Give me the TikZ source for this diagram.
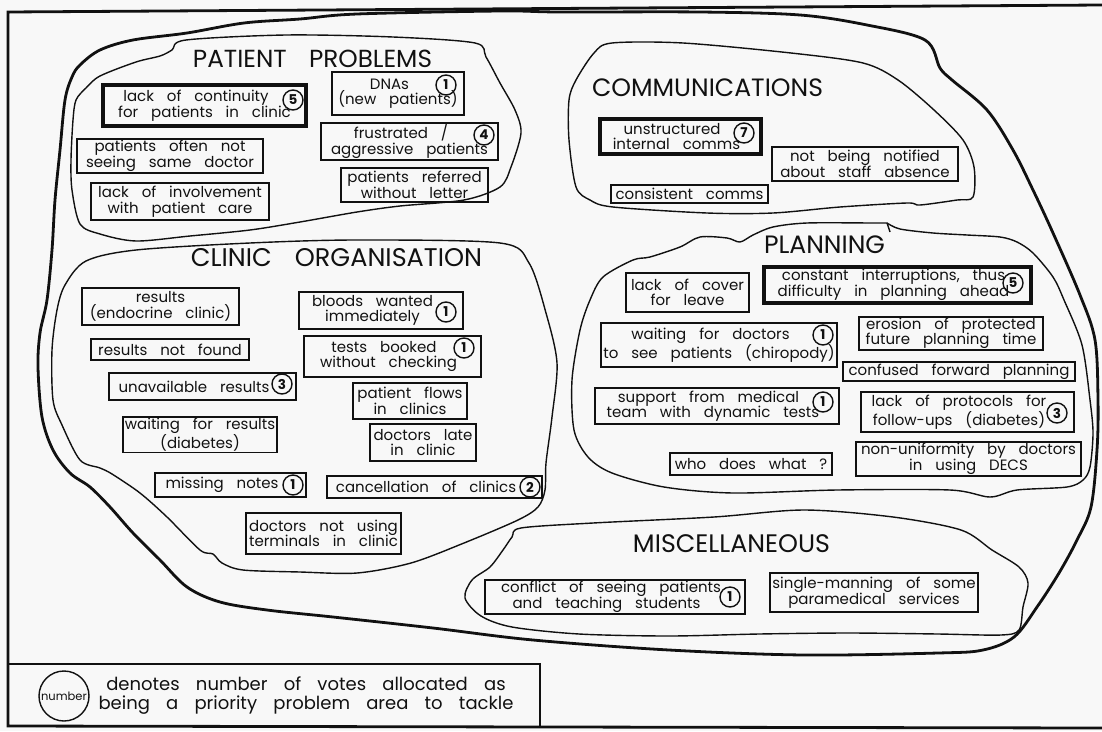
\documentclass[tikz,border=0pt]{standalone}
\usepackage{fontspec}
\setmainfont{Poppins}
\usepackage{graphicx}

\definecolor{ink}{HTML}{111111}
\definecolor{paper}{HTML}{F8F8F8}

% text settings
\newcommand\boxfont{\fontsize{15}{15.5}\selectfont\spaceskip=0.86em plus 0.3em minus 0.3em}
\newcommand\votefont{\fontsize{13.5}{13.5}\selectfont\bfseries}
\newcommand\legendfont{\fontsize{18}{19}\selectfont\spaceskip=0.9em plus 0.3em}
\newcommand\pad{\hspace*{17pt}}
\newcommand\halfpad{\hspace*{8pt}}
\newcommand\heading[2]{\resizebox{#1}{!}{#2}}

\tikzset{
  frame/.style={draw=ink, line width=2.8pt},
  outerblob/.style={draw=ink, line width=2.8pt, line join=round},
  blob/.style={draw=ink, line width=1.4pt, line join=round},
  box/.style={draw=ink, line width=1.3pt, inner sep=1pt, align=center,
              font=\boxfont, text=ink},
  hibox/.style={box, line width=4pt},
  vote/.style={circle, draw=ink, line width=1.4pt, inner sep=0pt,
               minimum size=20pt, font=\votefont, text=ink},
  title/.style={inner sep=0pt, text=ink},
}

\begin{document}
\begin{tikzpicture}[x=1pt, y=-1pt]
\useasboundingbox (0,0) rectangle (1102,731);
\fill[paper] (0,0) rectangle (1102,731);

% page frame (right edge lies outside the sheet)
\draw[frame] (1102,5) -- (8,12) -- (8,726) -- (1102,728);

% enclosing outline round all the groups
\draw[outerblob] plot[smooth cycle, tension=0.55] coordinates {
  (300,19) (357,14) (500,11) (560,12) (700,12) (800,15) (867,25) (925,40)
  (940,68) (952,80) (987,110) (1013,150) (1033,190) (1053,233) (1080,295)
  (1095,340) (1098,400) (1097,450) (1091,507) (1077,540) (1059,573)
  (1037,607) (1014,637) (983,650) (938,653) (804,655) (669,650) (533,640)
  (433,628) (333,617) (267,610) (220,602) (187,587) (160,560) (133,533)
  (110,507) (90,487) (70,473) (53,450) (42,417) (38,367) (40,333) (47,300)
  (52,250) (55,200) (60,150) (65,100) (72,77) (80,65) (100,50) (133,40)
  (187,33) (244,23)};

% group outlines
\draw[blob] plot[smooth cycle, tension=0.5] coordinates {
  (186,40) (286,35) (393,37) (475,43) (486,57) (500,83) (515,110) (521,133)
  (511,167) (500,187) (464,200) (400,206) (357,212) (300,222) (250,230)
  (190,236) (136,241) (100,234) (80,224) (72,190) (71,160) (73,120)
  (76,100) (86,88) (100,76) (136,62) (160,56) (172,50)};

\draw[blob] plot[smooth cycle, tension=0.5] coordinates {
  (594,53) (612,43) (683,43) (791,53) (863,63) (898,80) (934,110)
  (963,140) (974,167) (973,197) (957,200) (920,205) (907,203) (840,207)
  (773,213) (707,213) (613,207) (590,200) (576,187) (569,140) (569,100)
  (576,80)};

\draw[blob] plot[smooth cycle, tension=0.5] coordinates {
  (136,250) (250,243) (357,240) (500,243) (529,263) (546,313) (557,363)
  (552,417) (546,463) (545,490) (538,507) (518,520) (464,543) (411,563)
  (357,573) (300,572) (243,570) (222,563) (213,554) (200,550) (167,517)
  (140,493) (112,474) (100,468) (80,460) (62,425) (53,400) (52,350)
  (57,310) (65,285) (86,261)};

\draw[blob] plot[smooth, tension=0.5] coordinates {
  (887,223) (873,223) (807,223) (773,227) (753,235) (740,242) (727,238)
  (700,237) (680,247) (650,257) (633,260) (603,277) (590,300) (580,330)
  (572,380) (574,430) (588,457) (612,473) (664,487) (733,493) (837,490)
  (950,490) (990,497) (1017,490) (1067,487) (1083,480) (1090,467)
  (1093,433) (1090,400) (1082,345) (1064,300) (1053,277) (1033,253)
  (1017,242) (1000,237) (967,235) (933,233) (900,229) (887,223)};
\draw[blob] (887,223) -- (890,232);

\draw[blob] plot[smooth cycle, tension=0.5] coordinates {
  (521,528) (593,523) (714,517) (804,510) (893,517) (961,530) (992,550)
  (1019,567) (1028,583) (1023,607) (1019,630) (1001,635) (938,634)
  (848,633) (759,634) (669,636) (579,634) (512,627) (481,616) (465,598)
  (472,580) (490,567) (503,550) (512,537)};

% headings
\node[title] (hPat)  at (312.5,58.5) {\heading{239pt}{PATIENT\hspace{0.9em}PROBLEMS}};
\node[title] (hCom)  at (707.5,87.5) {\heading{231pt}{COMMUNICATIONS}};
\node[title] (hCli)  at (336.5,258)  {\heading{291pt}{CLINIC\hspace{0.9em}ORGANISATION}};
\node[title] (hPlan) at (824.5,245)  {\heading{121pt}{PLANNING}};
\node[title] (hMisc) at (731.5,544)  {\heading{197pt}{MISCELLANEOUS}};

% patient problems
\node[hibox, minimum width=203pt, minimum height=41pt] (t1) at (204.5,105.5)
  {lack of continuity\pad\\for patients in clinic};
\node[box, minimum width=132pt, minimum height=43pt] (t2) at (398,93.5)
  {DNAs\pad\\(new patients)};
\node[box, minimum width=177pt, minimum height=37pt] (t3) at (409.5,141.5)
  {frustrated /\pad\\aggressive patients};
\node[box, minimum width=186pt, minimum height=34pt] (t4) at (170,156)
  {patients often not\\seeing same doctor};
\node[box, minimum width=147pt, minimum height=34pt] (t5) at (414.5,185)
  {patients referred\\without letter};
\node[box, minimum width=178pt, minimum height=37pt] (t6) at (180,201.5)
  {lack of involvement\\with patient care};

% communications
\node[hibox, minimum width=161pt, minimum height=35pt] (c1) at (680.5,136.5)
  {unstructured\pad\\internal comms\halfpad};
\node[box, minimum width=186pt, minimum height=34pt] (c2) at (865,164)
  {not being notified\\about staff absence};
\node[box, minimum width=157pt, minimum height=18pt] (c3) at (689.5,194)
  {consistent comms};

% clinic organisation
\node[box, minimum width=157pt, minimum height=37pt] (k1) at (160.5,306.5)
  {results\\(endocrine clinic)};
\node[box, minimum width=164pt, minimum height=37pt] (k2) at (381,310.5)
  {bloods wanted\pad\\immediately\pad};
\node[box, minimum width=158pt, minimum height=21pt] (k3) at (170,349.5)
  {results not found};
\node[box, minimum width=177pt, minimum height=41pt] (k4) at (392.5,356.5)
  {tests booked\pad\\without checking\halfpad};
\node[box, minimum width=187pt, minimum height=27pt] (k5) at (202.5,386.5)
  {unavailable results\pad};
\node[box, minimum width=114pt, minimum height=36pt] (k6) at (410,401)
  {patient flows\\in clinics};
\node[box, minimum width=154pt, minimum height=35pt] (k7) at (200,434.5)
  {waiting for results\\(diabetes)};
\node[box, minimum width=106pt, minimum height=37pt] (k8) at (423,442.5)
  {doctors late\\in clinic};
\node[box, minimum width=151pt, minimum height=24pt] (k9) at (230.5,485)
  {missing notes\pad};
\node[box, minimum width=215pt, minimum height=22pt] (k10) at (434.5,487)
  {cancellation of clinics\pad};
\node[box, minimum width=155pt, minimum height=41pt] (k11) at (323.5,533.5)
  {doctors not using\\terminals in clinic};

% planning
\node[box, minimum width=123pt, minimum height=39pt] (p1) at (687.5,292.5)
  {lack of cover\\for leave};
\node[hibox, minimum width=267pt, minimum height=36pt] (p2) at (897.5,285)
  {constant interruptions, thus\halfpad\\difficulty in planning ahead\halfpad};
\node[box, minimum width=236pt, minimum height=44pt] (p3) at (719,345)
  {waiting for doctors\pad\\to see patients (chiropody)};
\node[box, minimum width=184pt, minimum height=33pt] (p4) at (951,333.5)
  {erosion of protected\\future planning time};
\node[box, minimum width=232pt, minimum height=19pt] (p5) at (959,371.5)
  {confused forward planning};
\node[box, minimum width=244pt, minimum height=36pt] (p6) at (717,406)
  {support from medical\pad\\team with dynamic tests\halfpad};
\node[box, minimum width=213pt, minimum height=40pt] (p7) at (967.5,412)
  {lack of protocols for\pad\\follow-ups (diabetes)\pad};
\node[box, minimum width=162pt, minimum height=22pt] (p8) at (751,464)
  {who does what ?};
\node[box, minimum width=225pt, minimum height=34pt] (p9) at (968.5,459)
  {non-uniformity by doctors\\in using DECS};

% miscellaneous
\node[box, minimum width=260pt, minimum height=34pt] (m1) at (615,597)
  {conflict of seeing patients\halfpad\\and teaching students\pad};
\node[box, minimum width=208pt, minimum height=39pt] (m2) at (874,592.5)
  {single-manning of some\\paramedical services};

% votes
\node[vote] (vt1)  at (293,100)  {5};
\node[vote] (vt2)  at (446,85)   {1};
\node[vote] (vt3)  at (484,135)  {4};
\node[vote] (vc1)  at (744,133)  {7};
\node[vote] (vk2)  at (446,312)  {1};
\node[vote] (vk4)  at (464,348)  {1};
\node[vote] (vk5)  at (282,384)  {3};
\node[vote] (vk9)  at (293,485)  {1};
\node[vote] (vk10) at (530,487)  {2};
\node[vote] (vp2)  at (1013,283) {5};
\node[vote] (vp3)  at (823,335)  {1};
\node[vote] (vp6)  at (823,402)  {1};
\node[vote] (vp7)  at (1057,413) {3};
\node[vote] (vm1)  at (730,597)  {1};

% key
\draw[ink, line width=2.6pt] (8,664) -- (540,664) -- (540,727);
\node[circle, draw=ink, line width=1.4pt, minimum size=50pt,
      inner sep=0pt, font=\fontsize{11.5}{11.5}\selectfont, text=ink] (key) at (64,696) {number};
\node[font=\legendfont, align=center, text=ink, inner sep=0pt] (keytext) at (306,696)
  {denotes number of votes allocated as\\being a priority problem area to tackle};
\end{tikzpicture}
\end{document}
